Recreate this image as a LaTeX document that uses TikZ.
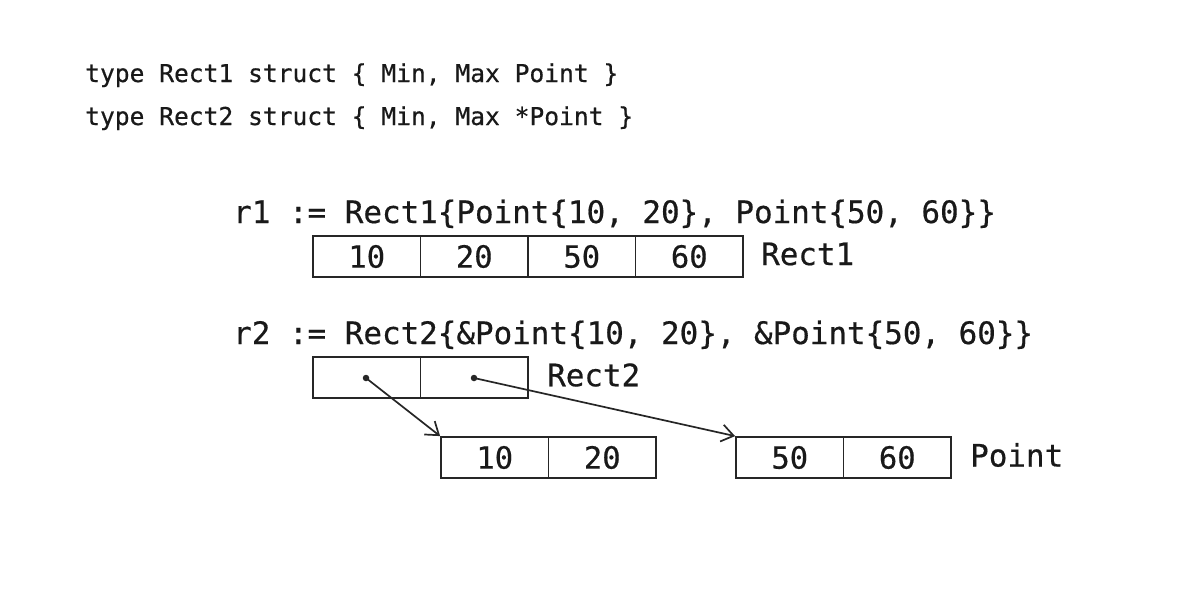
\documentclass[tikz,border=0pt]{standalone}
\usepackage{fontspec}
\usetikzlibrary{arrows.meta}
\newfontfamily\codefont[FakeBold=0.5]{DejaVu Sans Mono}
\begin{document}
\begin{tikzpicture}[x=1pt,y=-1pt,
  codetop/.style={font=\codefont\fontsize{24.6}{30}\selectfont, anchor=base west, inner sep=0pt, text=black!90},
  code/.style={font=\codefont\fontsize{30.9}{36}\selectfont, anchor=base west, inner sep=0pt, text=black!90},
  lbl/.style={font=\codefont\fontsize{30.9}{36}\selectfont, anchor=west, inner sep=0pt, text=black!90},
  cell/.style={draw=black!85, line width=1.8pt, minimum width=107.5pt, minimum height=41pt, inner sep=0pt,
    font=\codefont\fontsize{30.5}{34}\selectfont, text=black!90},
  ptr/.style={line width=1.7pt, draw=black!85, -{Straight Barb[length=12pt,width=17pt]}},
  dot/.style={circle, fill=black!85, inner sep=0pt, minimum size=6.5pt}]
\fill[white] (0,0) rectangle (1184,598);
\useasboundingbox (0,0) rectangle (1184,598);

\node[codetop] (t1) at (85,82) {type Rect1 struct \{ Min, Max Point \}};
\node[codetop] (t2) at (85,125) {type Rect2 struct \{ Min, Max *Point \}};

\node[code] (r1) at (233,223) {r1 := Rect1\{Point\{10, 20\}, Point\{50, 60\}\}};
\node[cell] (a1) at (366.75,256.5) {10};
\node[cell] (a2) at (474.25,256.5) {20};
\node[cell] (a3) at (581.75,256.5) {50};
\node[cell] (a4) at (689.25,256.5) {60};
\node[lbl] (l1) at (761,254) {Rect1};

\node[code] (r2) at (233,344) {r2 := Rect2\{\&Point\{10, 20\}, \&Point\{50, 60\}\}};
\node[cell] (b1) at (366.75,377.5) {};
\node[cell] (b2) at (474.25,377.5) {};
\node[lbl] (l2) at (547,375) {Rect2};

\node[cell] (p1) at (494.75,457.5) {10};
\node[cell] (p2) at (602.25,457.5) {20};
\node[cell] (q1) at (789.75,457.5) {50};
\node[cell] (q2) at (897.25,457.5) {60};
\node[lbl] (l3) at (970,455) {Point};

\node[dot] (d1) at (366,378) {};
\node[dot] (d2) at (474,378) {};
\draw[ptr] (d1.center) -- (p1.north west);
\draw[ptr] (d2.center) -- (q1.north west);
\end{tikzpicture}
\end{document}
